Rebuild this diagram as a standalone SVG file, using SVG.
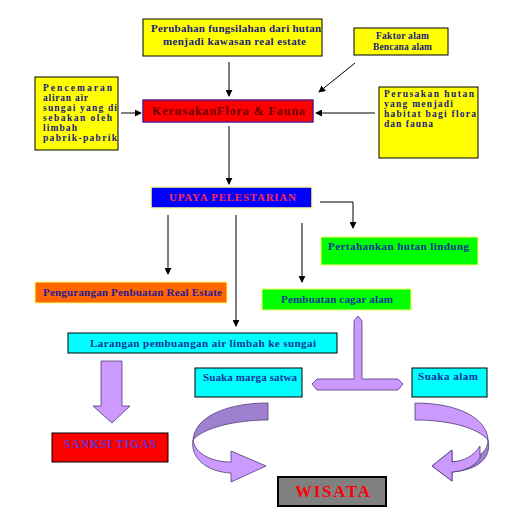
<svg xmlns="http://www.w3.org/2000/svg" width="512" height="525" viewBox="0 0 512 525">
<defs>
<marker id="ah" viewBox="0 0 8 8" refX="7" refY="4" markerWidth="7" markerHeight="7" markerUnits="userSpaceOnUse" orient="auto">
<path d="M0,0 L8,4 L0,8 Z" fill="#000"/>
</marker>
<style>
text{font-family:"Liberation Serif","Times New Roman",serif;font-weight:bold;font-size:11px}
.ml{font-size:9.5px}
.nv{fill:#1a1a80}
.bl{fill:#0d3399}
.ln{stroke:#000;stroke-width:1;fill:none}
.yb{fill:#ffff00;stroke:#000;stroke-width:1}
.cy{fill:#00ffff;stroke:#000;stroke-width:1}
.gr{fill:#00ff00;stroke:#ffff66;stroke-width:1}
.pu{fill:#cc99ff;stroke:#4d3a73;stroke-width:0.8}
.pd{fill:#9f80d0;stroke:#4d3a73;stroke-width:0.8}
</style>
</defs>
<rect width="512" height="525" fill="#fff"/>

<g id="connectors">
<path class="ln" d="M229,62 V96" marker-end="url(#ah)"/>
<path class="ln" d="M355,63 L319,92" marker-end="url(#ah)"/>
<path class="ln" d="M121,113 H141" marker-end="url(#ah)"/>
<path class="ln" d="M375,113 H316" marker-end="url(#ah)"/>
<path class="ln" d="M229,126 V184" marker-end="url(#ah)"/>
<path class="ln" d="M320,202 H353 V228" marker-end="url(#ah)"/>
<path class="ln" d="M168,215 V274" marker-end="url(#ah)"/>
<path class="ln" d="M236,215 V326" marker-end="url(#ah)"/>
<path class="ln" d="M302,223 V282" marker-end="url(#ah)"/>
</g>

<g id="n-perubahan">
<rect class="yb" x="143" y="19" width="179" height="37"/>
<text class="nv" x="151" y="32" textLength="170" lengthAdjust="spacing">Perubahan fungsilahan dari hutan</text>
<text class="nv" x="163" y="45" textLength="143" lengthAdjust="spacing">menjadi kawasan real estate</text>
</g>

<g id="n-faktor">
<rect class="yb" x="354" y="28" width="94" height="27"/>
<text class="nv ml" x="376" y="39" textLength="53" lengthAdjust="spacing">Faktor alam</text>
<text class="nv ml" x="373" y="50" textLength="59" lengthAdjust="spacing">Bencana alam</text>
</g>

<g id="n-pencemaran">
<rect class="yb" x="35" y="77" width="83" height="73"/>
<text class="nv ml" x="43" y="91" textLength="69" lengthAdjust="spacing">Pencemaran</text>
<text class="nv ml" x="43" y="101" textLength="45" lengthAdjust="spacing">aliran air</text>
<text class="nv ml" x="43" y="111" textLength="74" lengthAdjust="spacing">sungai yang di</text>
<text class="nv ml" x="43" y="121" textLength="69" lengthAdjust="spacing">sebakan oleh</text>
<text class="nv ml" x="43" y="131" textLength="34" lengthAdjust="spacing">limbah</text>
<text class="nv ml" x="43" y="141" textLength="74" lengthAdjust="spacing">pabrik-pabrik</text>
</g>

<g id="n-perusakan">
<rect class="yb" x="379" y="87" width="99" height="71"/>
<text class="nv ml" x="384" y="97" textLength="90" lengthAdjust="spacing">Perusakan hutan</text>
<text class="nv ml" x="384" y="107" textLength="69" lengthAdjust="spacing">yang menjadi</text>
<text class="nv ml" x="384" y="117" textLength="92" lengthAdjust="spacing">habitat bagi flora</text>
<text class="nv ml" x="384" y="127" textLength="49" lengthAdjust="spacing">dan fauna</text>
</g>

<g id="n-kerusakan">
<rect x="143" y="100" width="170" height="22" fill="#ff0000" stroke="#5a1a8a" stroke-width="1.5"/>
<text x="152" y="115" fill="#6b0000" style="font-size:12px" textLength="153" lengthAdjust="spacing">KerusakanFlora &amp; Fauna</text>
</g>

<g id="n-upaya">
<rect x="151" y="187" width="161" height="21" fill="#0000ff" stroke="#ffff99" stroke-width="1.5"/>
<text x="169" y="201" fill="#ff2a4a" textLength="127" lengthAdjust="spacing">UPAYA PELESTARIAN</text>
</g>

<g id="n-pertahankan">
<rect class="gr" x="321" y="237" width="157" height="28"/>
<text class="bl" x="328" y="250" textLength="141" lengthAdjust="spacing">Pertahankan hutan lindung</text>
</g>

<g id="n-pengurangan">
<rect x="35" y="282" width="192" height="21" fill="#ff6600" stroke="#ffff66" stroke-width="1"/>
<text fill="#2a1a99" x="43" y="296" textLength="179" lengthAdjust="spacing">Pengurangan Penbuatan Real Estate</text>
</g>

<g id="n-cagar">
<rect class="gr" x="262" y="289" width="149" height="21"/>
<text class="bl" x="281" y="303" textLength="112" lengthAdjust="spacing">Pembuatan cagar alam</text>
</g>

<g id="n-larangan">
<rect class="cy" x="68" y="333" width="269" height="20"/>
<text class="bl" x="90" y="347" textLength="226" lengthAdjust="spacing">Larangan pembuangan air limbah ke sungai</text>
</g>

<g id="n-suakamarga">
<rect class="cy" x="195" y="368" width="107" height="29"/>
<text class="bl" x="203" y="381" textLength="94" lengthAdjust="spacing">Suaka marga satwa</text>
</g>

<g id="n-suakaalam">
<rect class="cy" x="412" y="368" width="75" height="29"/>
<text class="bl" x="418" y="380" textLength="60" lengthAdjust="spacing">Suaka alam</text>
</g>

<g id="n-sanksi">
<rect x="52" y="433" width="116" height="29" fill="#ff0000" stroke="#000" stroke-width="1"/>
<text x="64" y="448" fill="#6633cc" style="font-size:12px" textLength="92" lengthAdjust="spacing">SANKSI TIGAS</text>
</g>

<g id="n-wisata">
<rect x="278" y="477" width="108" height="29" fill="#808080" stroke="#000" stroke-width="2"/>
<text x="295" y="497" fill="#ff0000" style="font-size:17px" textLength="75" lengthAdjust="spacing">WISATA</text>
</g>

<g id="shapes">
<path class="pu" d="M101,361 H122 V406 H130 L112,423 L93,406 H101 Z"/>
<path class="pu" d="M358,316 L362,321 V379 H398 L403,384 L398,390 H317 L312,384 L317,379 H354 V321 Z"/>
<path class="pd" d="M268,403 C228,403 195,416 193,440 C203,428 235,420 268,420 Z"/>
<path class="pu" d="M193,440 C195,454 212,462 231,462 L231,451 L266,466 L231,482 L231,473 C207,472 190,458 193,440 Z"/>
<path class="pu" d="M415,403 C458,403 487,418 488,440 C478,428 450,420 415,420 Z"/>
<path class="pd" d="M488,440 C488,455 472,461 452,462 L452,450 L432,466 L452,481 L452,472 C478,470 492,458 488,440 Z"/>
<path class="pu" d="M480,446 C474,456 464,461 452,462 L452,450 L432,466 L452,481 L452,472 C466,471 476,465 480,458 Z"/>
</g>
</svg>
